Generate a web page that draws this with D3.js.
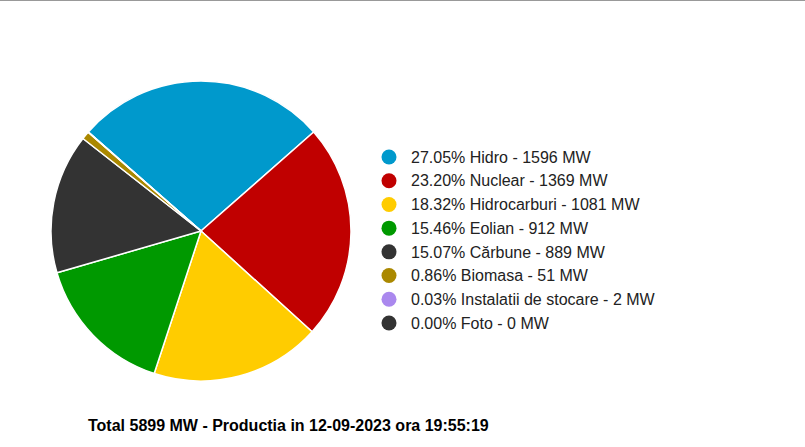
<!DOCTYPE html>
<html><head><meta charset="utf-8">
<script src="https://cdn.jsdelivr.net/npm/d3@7"></script>
<style>body{margin:0;background:#fff}</style></head>
<body><svg id="c" width="805" height="447"></svg>
<script>
const categories=["Hidro","Nuclear","Hidrocarburi","Eolian","Cărbune","Biomasa","Instalatii de stocare","Foto"];
const percents=["27.05","23.20","18.32","15.46","15.07","0.86","0.03","0.00"];
const values=[1596,1369,1081,912,889,51,2,0];
const colors=["#0099cc","#c00000","#ffcc00","#009900","#333333","#aa8800","#aa88ee","#333333"];
const totalLabel="Total 5899 MW - Productia in 12-09-2023 ora 19:55:19";
const svg=d3.select("#c");
svg.append("line").attr("x1",0).attr("x2",805).attr("y1",0.5).attr("y2",0.5).attr("stroke","#999");
const total=d3.sum(values);
const a0=-Math.PI*values[0]/total;
const pie=d3.pie().sort(null).startAngle(a0).endAngle(a0+2*Math.PI);
const arc=d3.arc().innerRadius(0).outerRadius(150);
const g=svg.append("g").attr("transform","translate(201,231)");
g.selectAll("path").data(pie(values)).join("path").attr("d",arc)
 .attr("fill",(d,i)=>colors[i]).attr("stroke","#fff").attr("stroke-width",1.5);
const y=d3.scalePoint().domain(categories).range([157,323]);
const lg=svg.append("g");
categories.forEach((c,i)=>{
 lg.append("circle").attr("cx",389).attr("cy",y(c)).attr("r",7.5).attr("fill",colors[i]);
 lg.append("text").attr("x",411).attr("y",y(c)).attr("dy","0.36em")
  .attr("font-family","Arial, Liberation Sans, sans-serif").attr("font-size",16).attr("fill","#222")
  .text(`${percents[i]}% ${c} - ${values[i]} MW`);
});
svg.append("text").attr("x",88).attr("y",431).attr("font-family","Arial, Liberation Sans, sans-serif")
 .attr("font-size",16).attr("font-weight","bold").attr("fill","#000").text(totalLabel);
</script></body></html>
